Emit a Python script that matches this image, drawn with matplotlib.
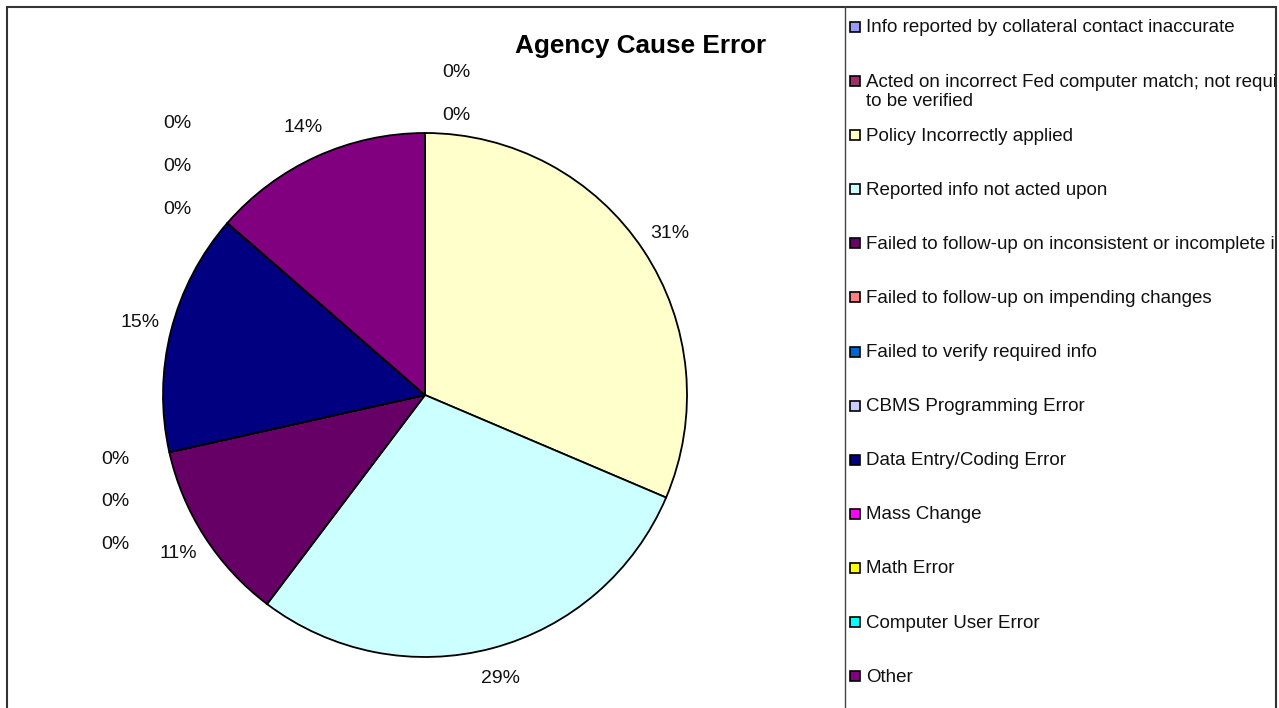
import matplotlib.pyplot as plt
import numpy as np
from matplotlib.patches import Rectangle
from matplotlib.lines import Line2D

plt.rcParams['font.family'] = ['Liberation Sans', 'DejaVu Sans']

# data (percent share of agency cause errors)
categories = [
    'Info reported by collateral contact inaccurate',
    'Acted on incorrect Fed computer match; not required\nto be verified',
    'Policy Incorrectly applied',
    'Reported info not acted upon',
    'Failed to follow-up on inconsistent or incomplete info',
    'Failed to follow-up on impending changes',
    'Failed to verify required info',
    'CBMS Programming Error',
    'Data Entry/Coding Error',
    'Mass Change',
    'Math Error',
    'Computer User Error',
    'Other',
]
values = [0, 0, 31.4, 28.9, 11.2, 0, 0, 0, 14.9, 0, 0, 0, 13.6]
colors = ['#9999FF', '#993366', '#FFFFCC', '#CCFFFF', '#660066', '#FF8080',
          '#0066CC', '#CCCCFF', '#000080', '#FF00FF', '#FFFF00', '#00FFFF',
          '#800080']

W, H = 1279, 708
fig = plt.figure(figsize=(W / 100, H / 100), dpi=100)

# pie axes, centre (425, 395) px, radius 262 px
cx, cy, R = 425, 395, 262
ax = fig.add_axes([(cx - R) / W, (H - cy - R) / H, 2 * R / W, 2 * R / H])
ax.pie(values, colors=colors, startangle=90, counterclock=False, radius=1,
       wedgeprops=dict(edgecolor='black', linewidth=1.3))
ax.set_xlim(-1, 1)
ax.set_ylim(-1, 1)
ax.axis('off')

# data labels
total = float(sum(values))
fracs = np.array(values) / total
starts = np.concatenate([[0], np.cumsum(fracs)[:-1]])
mids = np.deg2rad(90 - 360 * (starts + fracs / 2))
r_lab = 1.12
step = 0.163
lab_fs = 14

# stacking for runs of zero slices (Excel pushes them apart)
zero_shift = {0: (0.12, 0.11), 5: (-0.09, 0.0), 9: (-0.10, 0.30)}
i = 0
while i < len(values):
    if values[i] > 0:
        ax.text(r_lab * np.cos(mids[i]), r_lab * np.sin(mids[i]),
                '%d%%' % round(100 * fracs[i]), ha='center', va='center',
                fontsize=lab_fs, color='#111111', clip_on=False)
        i += 1
        continue
    j = i
    while j < len(values) and values[j] == 0:
        j += 1
    dx, dy = zero_shift.get(i, (0, 0))
    x0 = r_lab * np.cos(mids[i]) + dx
    y0 = r_lab * np.sin(mids[i]) + dy
    for k in range(i, j):
        ax.text(x0, y0 - (k - i) * step, '0%', ha='center', va='center',
                fontsize=lab_fs, color='#111111', clip_on=False)
    i = j

fig.text(641 / W, 1 - 46 / H, 'Agency Cause Error', ha='center', va='center',
         fontsize=18.8, fontweight='bold')

# legend panel
lx0, lx1 = 845, 1276
lax = fig.add_axes([lx0 / W, 0, (lx1 - lx0) / W, (H - 7) / H])
lax.set_xlim(lx0, lx1)
lax.set_ylim(H, 7)
lax.axis('off')
for n, (lab, col) in enumerate(zip(categories, colors)):
    y = 27 + n * 54.1
    lax.add_patch(Rectangle((850, y - 5), 10, 10, facecolor=col,
                            edgecolor='black', linewidth=1.2))
    lax.text(866, y - 7.5, lab, ha='left', va='top', fontsize=13.5,
             linespacing=1.15, color='#111111', clip_on=True)

# chart border and legend divider
fig.add_artist(Rectangle((7 / W, -0.05), (1276 - 7) / W, (H - 7) / H + 0.05,
                         transform=fig.transFigure, fill=False,
                         edgecolor='#333333', linewidth=1.5))
fig.add_artist(Line2D([lx0 / W, lx0 / W], [0, (H - 7) / H],
                      transform=fig.transFigure, color='#444444',
                      linewidth=1.0))

fig.savefig('out.png', dpi=100)
